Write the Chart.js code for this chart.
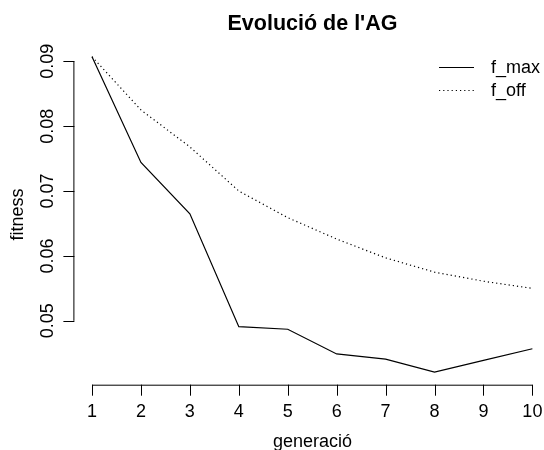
<!DOCTYPE html>
<html>
<head>
<meta charset="utf-8">
<script src="https://cdn.jsdelivr.net/npm/chart.js@4/dist/chart.umd.min.js"></script>
<style>
  html, body { margin: 0; padding: 0; background: #fff; overflow: hidden; }
  #wrap { width: 544px; height: 450px; position: relative; }
</style>
</head>
<body>
<div id="wrap"><canvas id="c" width="544" height="450"></canvas></div>
<script>
const generations = [1, 2, 3, 4, 5, 6, 7, 8, 9, 10];
const fMax = [0.0907, 0.0744, 0.0665, 0.0491, 0.0487, 0.0449, 0.0441, 0.0421, 0.0439, 0.0457];
const fOff = [0.0907, 0.0825, 0.0768, 0.0700, 0.0659, 0.0626, 0.0597, 0.0575, 0.0561, 0.0550];
const xTickLabels = ["1", "2", "3", "4", "5", "6", "7", "8", "9", "10"];
const yTickValues = [0.05, 0.06, 0.07, 0.08, 0.09];
const yTickLabels = ["0.05", "0.06", "0.07", "0.08", "0.09"];
const seriesNames = ["f_max", "f_off"];
const titleText = "Evolució de l'AG";
const xTitle = "generació";
const yTitle = "fitness";

const FONT = "'Liberation Sans', Arial, Helvetica, sans-serif";
const FS = 18;
const TICK = 11;

// R-like 4% axis extension on y
const allY = fMax.concat(fOff);
const yMinD = Math.min(...allY), yMaxD = Math.max(...allY);
const yExt = (yMaxD - yMinD) * 0.04;

const rAxes = {
  id: 'rAxes',
  afterDraw(chart) {
    const ctx = chart.ctx;
    const xs = chart.scales.x, ys = chart.scales.y;
    ctx.save();
    ctx.strokeStyle = '#000';
    ctx.fillStyle = '#000';
    ctx.lineWidth = 1;
    // x axis
    const xb = chart.chartArea.bottom;
    const x0 = xs.getPixelForValue(generations[0]);
    const x1 = xs.getPixelForValue(generations[generations.length - 1]);
    ctx.beginPath();
    ctx.moveTo(x0, xb + 0.5); ctx.lineTo(x1, xb + 0.5);
    generations.forEach(g => {
      const p = Math.round(xs.getPixelForValue(g)) + 0.5;
      ctx.moveTo(p, xb); ctx.lineTo(p, xb + TICK);
    });
    ctx.stroke();
    ctx.font = FS + 'px ' + FONT;
    ctx.textAlign = 'center';
    ctx.textBaseline = 'alphabetic';
    generations.forEach((g, i) => {
      ctx.fillText(xTickLabels[i], xs.getPixelForValue(g), xb + 32);
    });
    const midX = (chart.chartArea.left + 550.6) / 2;
    ctx.fillText(xTitle, midX, xb + 62);
    // y axis
    const xl = chart.chartArea.left;
    const yA = ys.getPixelForValue(yTickValues[0]);
    const yB = ys.getPixelForValue(yTickValues[yTickValues.length - 1]);
    ctx.beginPath();
    ctx.moveTo(xl - 0.5, yA); ctx.lineTo(xl - 0.5, yB);
    yTickValues.forEach(v => {
      const p = Math.round(ys.getPixelForValue(v)) + 0.5;
      ctx.moveTo(xl, p); ctx.lineTo(xl - TICK, p);
    });
    ctx.stroke();
    yTickValues.forEach((v, i) => {
      ctx.save();
      ctx.translate(xl - 21, ys.getPixelForValue(v));
      ctx.rotate(-Math.PI / 2);
      ctx.textAlign = 'center';
      ctx.fillText(yTickLabels[i], 0, 0);
      ctx.restore();
    });
    ctx.save();
    ctx.translate(xl - 51, (chart.chartArea.top + chart.chartArea.bottom) / 2);
    ctx.rotate(-Math.PI / 2);
    ctx.textAlign = 'center';
    ctx.fillText(yTitle, 0, 0);
    ctx.restore();
    // title
    ctx.font = 'bold 21.5px ' + FONT;
    ctx.textAlign = 'center';
    ctx.fillText(titleText, midX, 30);
    // legend
    ctx.font = FS + 'px ' + FONT;
    ctx.textAlign = 'left';
    ctx.textBaseline = 'middle';
    const legY = [67.5, 90.5];
    chart.data.datasets.forEach((ds, i) => {
      ctx.beginPath();
      ctx.lineWidth = ds.borderWidth;
      ctx.setLineDash(ds.borderDash || []);
      ctx.moveTo(439, legY[i]); ctx.lineTo(474, legY[i]);
      ctx.stroke();
      ctx.setLineDash([]);
      ctx.fillText(seriesNames[i], 491, legY[i] + 1);
    });
    ctx.restore();
  }
};

new Chart(document.getElementById('c'), {
  type: 'line',
  data: {
    datasets: [
      {
        label: seriesNames[0],
        data: generations.map((g, i) => ({ x: g, y: fMax[i] })),
        borderColor: '#000', borderWidth: 1.2, pointRadius: 0, tension: 0, fill: false
      },
      {
        label: seriesNames[1],
        data: generations.map((g, i) => ({ x: g, y: fOff[i] })),
        borderColor: '#000', borderWidth: 1.2, borderDash: [1.2, 3], pointRadius: 0, tension: 0, fill: false
      }
    ]
  },
  options: {
    responsive: false,
    animation: false,
    devicePixelRatio: 1,
    layout: { padding: { left: 74.4, top: 44.1, right: 0, bottom: 65.3 } },
    plugins: { legend: { display: false }, title: { display: false }, tooltip: { enabled: false } },
    scales: {
      x: { type: 'linear', display: false, min: 0.64, max: 0.64 + (544 - 74.4) / 48.93 },
      y: { type: 'linear', display: false, min: yMinD - yExt, max: yMaxD + yExt }
    }
  },
  plugins: [rAxes]
});
</script>
</body>
</html>
